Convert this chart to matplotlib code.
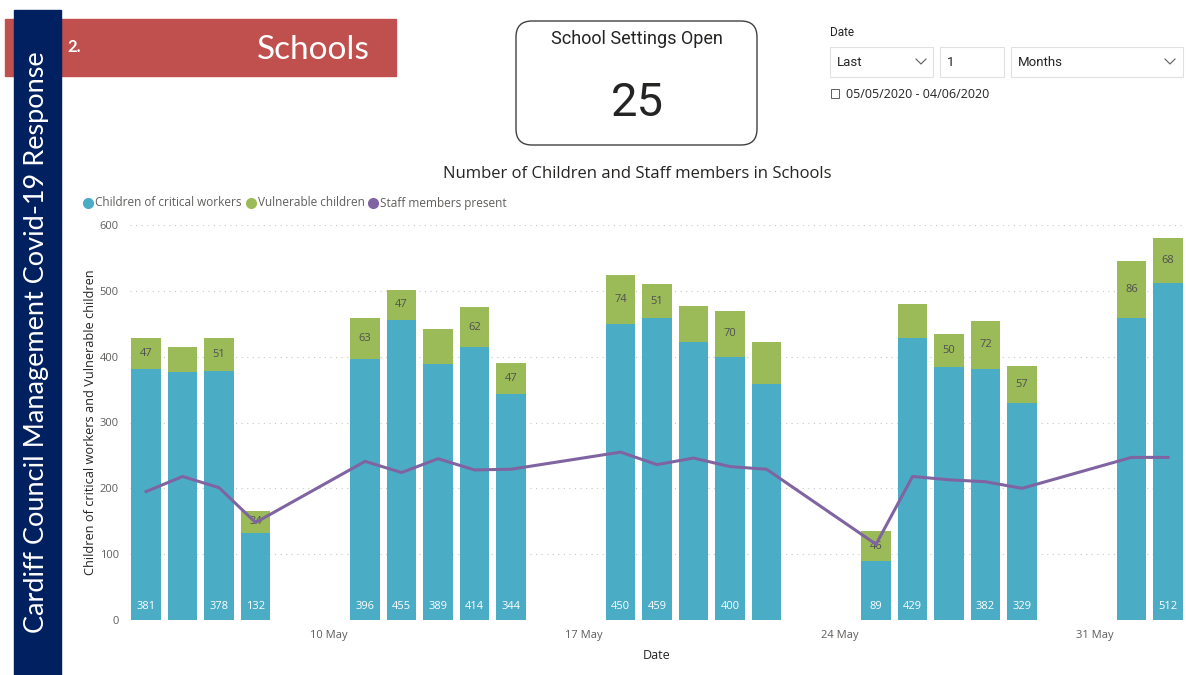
import matplotlib
matplotlib.use("Agg")
import matplotlib.pyplot as plt
import matplotlib.dates as mdates
from matplotlib.patches import FancyBboxPatch, Rectangle
import numpy as np

# data (one entry per school day)
dates = ["2020-05-05", "2020-05-06", "2020-05-07", "2020-05-08",
         "2020-05-11", "2020-05-12", "2020-05-13", "2020-05-14", "2020-05-15",
         "2020-05-18", "2020-05-19", "2020-05-20", "2020-05-21", "2020-05-22",
         "2020-05-25", "2020-05-26", "2020-05-27", "2020-05-28", "2020-05-29",
         "2020-06-01", "2020-06-02"]
critical = [381, 377, 378, 132,
            396, 455, 389, 414, 344,
            450, 459, 422, 400, 359,
            89, 429, 384, 382, 329,
            459, 512]
vulnerable = [47, 38, 51, 34,
              63, 47, 53, 62, 47,
              74, 51, 55, 70, 64,
              46, 51, 50, 72, 57,
              86, 68]
staff = [195, 218, 201, 148,
         241, 224, 245, 228, 229,
         255, 236, 246, 233, 229,
         115, 218, 213, 210, 200,
         247, 247]
# which data labels Power BI chose to show
show_critical = [1, 0, 1, 1, 1, 1, 1, 1, 1, 1, 1, 0, 1, 0, 1, 1, 0, 1, 1, 0, 1]
show_vulnerable = [1, 0, 1, 1, 1, 1, 0, 1, 1, 1, 1, 0, 1, 0, 1, 0, 1, 1, 1, 1, 1]

tick_dates = ["2020-05-10", "2020-05-17", "2020-05-24", "2020-05-31"]
tick_labels = ["10 May", "17 May", "24 May", "31 May"]

C_CRIT = "#4BACC6"
C_VULN = "#9BBB59"
C_STAFF = "#8064A2"
W, H = 1186, 675


def main():
    plt.rcParams["font.family"] = ["Open Sans", "DejaVu Sans"]
    fig = plt.figure(figsize=(W / 100, H / 100), dpi=100)

    # decoration layer in pixel coordinates
    deco = fig.add_axes([0, 0, 1, 1], zorder=0)
    deco.set_xlim(0, W)
    deco.set_ylim(H, 0)
    deco.axis("off")

    deco.add_patch(Rectangle((5, 19), 391, 57, color="#C0504D", zorder=1))
    deco.add_patch(Rectangle((14, 10), 47, 670, color="#002060", zorder=2))
    deco.text(37, 342, "Cardiff Council Management Covid-19 Response",
              rotation=90, color="white", fontsize=19.5, family="Lato",
              ha="center", va="center", zorder=3)
    deco.text(67, 47, "2.", color="white", fontsize=12, fontweight="bold",
              family="Lato", ha="left", va="center", zorder=3)
    deco.text(313, 50, "Schools", color="white", fontsize=24, family="Lato",
              ha="center", va="center", zorder=3)

    # card
    deco.add_patch(FancyBboxPatch((516, 21), 241, 124,
                                  boxstyle="round,pad=0,rounding_size=16",
                                  fc="white", ec="#404040", lw=1.0))
    deco.text(637, 39, "School Settings Open", fontsize=13, family="Roboto",
              color="#252423", ha="center", va="center")
    deco.text(637, 103, "25", fontsize=34, family="Roboto",
              color="#252423", ha="center", va="center")

    # date slicer
    deco.text(830, 32, "Date", fontsize=8.5, family="Roboto",
              color="#252423", ha="left", va="center")
    for x0, x1, label in [(830, 933, "Last"), (940, 1004, "1"),
                          (1011, 1183, "Months")]:
        deco.add_patch(Rectangle((x0, 47), x1 - x0, 30, fc="white",
                                 ec="#E0E0E0", lw=0.8))
        deco.text(x0 + 7, 62, label, fontsize=9.5, family="Roboto",
                  color="#252423", ha="left", va="center")
    for cx in (921, 1170):
        deco.plot([cx - 5, cx, cx + 5], [59, 64, 59], color="#605E5C", lw=0.8)
    deco.add_patch(Rectangle((831, 89), 8, 9, fc="none", ec="#605E5C", lw=0.7))
    deco.text(846, 95, "05/05/2020 - 04/06/2020", fontsize=9,
              color="#252423", ha="left", va="center")

    # chart title and legend
    deco.text(637, 174, "Number of Children and Staff members in Schools",
              fontsize=12, color="#252423", ha="center", va="center")
    lx = 88
    for label, col in [("Children of critical workers", C_CRIT),
                       ("Vulnerable children", C_VULN),
                       ("Staff members present", C_STAFF)]:
        deco.plot(lx, 203, "o", ms=7, color=col)
        t = deco.text(lx + 7, 203, label, fontsize=8.5, color="#605E5C",
                      ha="left", va="center")
        fig.canvas.draw()
        bb = t.get_window_extent()
        lx = bb.x1 + 9

    # main chart
    ax = fig.add_axes([130 / W, 1 - 620 / H, (1183 - 130) / W, 395 / H],
                      zorder=1)
    ax.patch.set_alpha(0)
    x = mdates.date2num(np.array(dates, dtype="datetime64[D]"))
    crit = np.array(critical)
    vuln = np.array(vulnerable)

    ax.bar(x, crit, width=0.8, color=C_CRIT, zorder=2)
    ax.bar(x, vuln, bottom=crit, width=0.8, color=C_VULN, zorder=2)
    ax.plot(x, staff, color=C_STAFF, lw=2.2, zorder=4)

    for xi, c, v, sc, sv in zip(x, crit, vuln, show_critical, show_vulnerable):
        if sc:
            ax.annotate(str(c), (xi, 0), xytext=(0, 9.4),
                        textcoords="offset points", ha="center", va="center",
                        fontsize=8, color="white", zorder=5)
        if sv:
            ax.text(xi, c + v / 2, str(v), ha="center", va="center",
                    fontsize=8, color="#505050", zorder=3)

    ax.set_xlim(x[0] - 0.44, x[-1] + 0.41)
    ax.set_ylim(0, 600)
    ax.set_yticks(np.arange(0, 601, 100))
    ax.set_xticks(mdates.date2num(np.array(tick_dates, dtype="datetime64[D]")))
    ax.set_xticklabels(tick_labels)
    ax.tick_params(length=0, labelsize=8, labelcolor="#605E5C")
    ax.tick_params(axis="y", pad=8)
    ax.tick_params(axis="x", pad=7)
    ax.grid(axis="y", color="#C8C8C8", ls=(0, (1, 4)), lw=0.8, zorder=0)
    for s in ax.spines.values():
        s.set_visible(False)
    ax.set_ylabel("Children of critical workers and Vulnerable children",
                  fontsize=9.2, color="#252423", labelpad=2)
    ax.set_xlabel("Date", fontsize=9, color="#252423", labelpad=6)

    fig.savefig("out.png", dpi=100)


if __name__ == "__main__":
    main()
